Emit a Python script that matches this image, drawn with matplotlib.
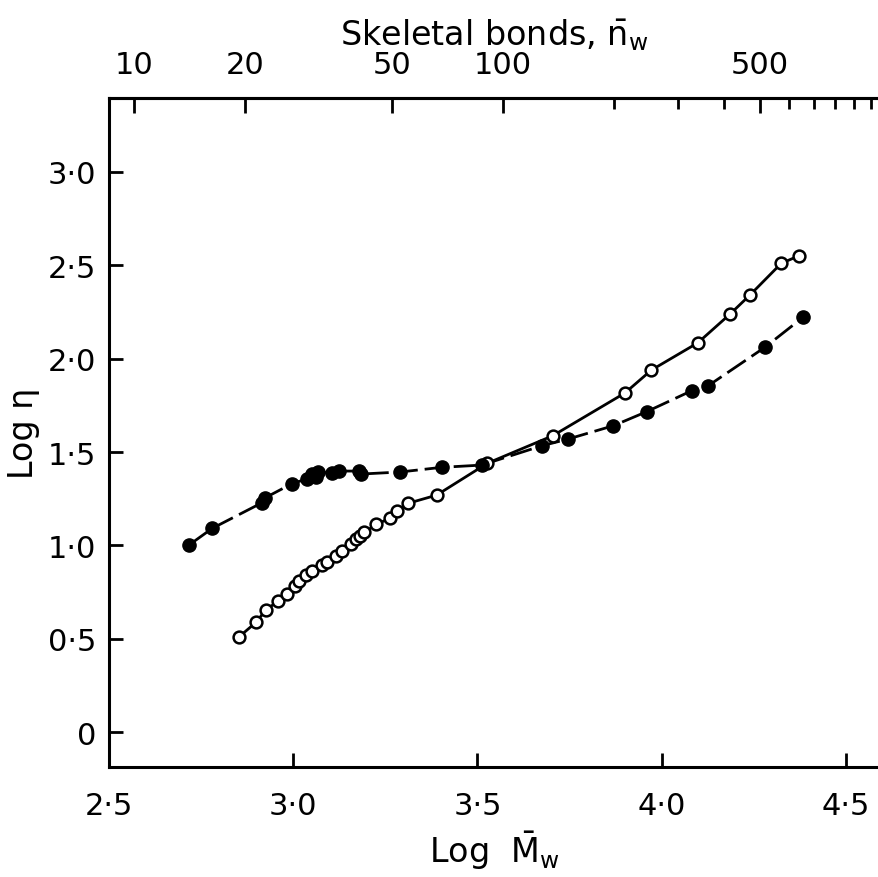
import numpy as np
import matplotlib
matplotlib.use('Agg')
import matplotlib.pyplot as plt

plt.rcParams['font.family'] = ['DejaVu Sans']
plt.rcParams['mathtext.default'] = 'regular'

# filled circles (dashed curve)
filled_logM = [2.718, 2.780, 2.914, 2.922, 2.997, 3.036, 3.050, 3.063, 3.067, 3.105,
               3.125, 3.178, 3.184, 3.290, 3.403, 3.511, 3.674, 3.745, 3.869, 3.959,
               4.081, 4.126, 4.280, 4.383]
filled_logeta = [1.003, 1.091, 1.227, 1.253, 1.331, 1.355, 1.382, 1.366, 1.393, 1.387,
                 1.398, 1.398, 1.382, 1.393, 1.418, 1.430, 1.533, 1.569, 1.641, 1.716,
                 1.828, 1.855, 2.061, 2.221]

# open circles (solid curve)
open_logM = [2.853, 2.899, 2.926, 2.958, 2.982, 3.006, 3.016, 3.034, 3.050, 3.077,
             3.091, 3.115, 3.131, 3.157, 3.170, 3.181, 3.193, 3.225, 3.262, 3.282,
             3.311, 3.389, 3.527, 3.704, 3.900, 3.972, 4.098, 4.186, 4.240, 4.324,
             4.372]
open_logeta = [0.510, 0.588, 0.655, 0.700, 0.739, 0.784, 0.810, 0.841, 0.864, 0.896,
               0.912, 0.944, 0.968, 1.007, 1.034, 1.051, 1.070, 1.112, 1.145, 1.185,
               1.225, 1.269, 1.440, 1.587, 1.816, 1.939, 2.085, 2.240, 2.342, 2.510,
               2.551]

x_ticks = [2.5, 3.0, 3.5, 4.0, 4.5]
y_ticks = [0, 0.5, 1.0, 1.5, 2.0, 2.5, 3.0]
top_major = [10, 20, 50, 100, 500]
top_minor = [200, 300, 400, 600, 700, 800, 900, 1000]
bond_mass = 37.0  # molar mass per skeletal bond

fig = plt.figure(figsize=(8.79, 8.78), dpi=100)
ax = fig.add_axes([0.124, 0.1253, 0.876, 0.7619])

ax.plot(open_logM, open_logeta, color='black', lw=2.0, zorder=2)
ax.plot(open_logM, open_logeta, 'o', ms=8.5, mfc='white', mec='black', mew=1.8, zorder=3)
ax.plot(filled_logM, filled_logeta, color='black', lw=2.0, ls=(0, (8, 2.5)), zorder=2)
ax.plot(filled_logM, filled_logeta, 'o', ms=9.5, color='black', zorder=3)

ax.set_xlim(2.5, 4.5896)
ax.set_ylim(-0.187, 3.396)

ax.set_xticks(x_ticks)
ax.set_xticklabels([f'{v:.1f}'.replace('.', '·') for v in x_ticks])
ax.set_yticks(y_ticks)
ax.set_yticklabels(['0' if v == 0 else f'{v:.1f}'.replace('.', '·') for v in y_ticks])

ax.tick_params(axis='both', direction='in', length=10, width=2, labelsize=22)
ax.tick_params(axis='x', pad=17)
ax.tick_params(axis='y', pad=9)

for side in ['left', 'bottom', 'top']:
    ax.spines[side].set_linewidth(2.2)
ax.spines['right'].set_visible(False)

ax.set_xlabel(r'Log  $\bar{M}_w$', fontsize=24, labelpad=6)
ax.set_ylabel('Log η', fontsize=24, labelpad=6)

# top axis: skeletal bonds
sec = ax.secondary_xaxis('top', functions=(lambda x: x - np.log10(bond_mass),
                                           lambda x: x + np.log10(bond_mass)))
sec.set_xticks(np.log10(top_major))
sec.set_xticklabels([str(v) for v in top_major])
sec.set_xticks(np.log10(top_minor), minor=True)
sec.tick_params(axis='x', which='major', direction='in', length=11, width=2, labelsize=22, pad=14)
sec.tick_params(axis='x', which='minor', direction='in', length=8, width=2)
sec.spines['top'].set_linewidth(2.2)
sec.set_xlabel(r'Skeletal bonds, $\bar{n}_w$', fontsize=24, labelpad=4)

plt.savefig('out.png', dpi=100)
